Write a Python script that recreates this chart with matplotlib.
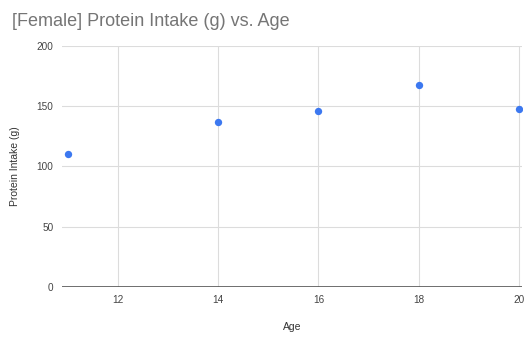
import matplotlib
matplotlib.use('Agg')
import matplotlib.pyplot as plt

# data
age = [11, 14, 16, 18, 20]
protein = [110, 137, 146, 168, 148]
x_ticks = [12, 14, 16, 18, 20]
y_ticks = [0, 50, 100, 150, 200]

plt.rcParams['font.family'] = ['Liberation Sans', 'DejaVu Sans']

fig = plt.figure(figsize=(5.25, 3.38), dpi=100)
ax = fig.add_axes([0.118, 0.151, 0.876, 0.713])

ax.scatter(age, protein, color='#3c78f0', s=28, zorder=3, linewidths=0)

ax.set_xlim(10.88, 20.06)
ax.set_ylim(0, 200)
ax.set_xticks(x_ticks)
ax.set_yticks(y_ticks)
ax.grid(True, color='#dcdcdc', linewidth=0.8)
ax.set_axisbelow(True)
ax.axhline(0, color='#555555', linewidth=1.2, zorder=2)

for s in ax.spines.values():
    s.set_visible(False)
ax.tick_params(length=0, labelsize=7.2, labelcolor='#444444', pad=6)

ax.set_xlabel('Age', fontsize=7.5, color='#333333', labelpad=12)
ax.set_ylabel('Protein Intake (g)', fontsize=7.5, color='#333333', labelpad=12)
fig.text(0.022, 0.91, '[Female] Protein Intake (g) vs. Age', fontsize=13,
         color='#757575', va='bottom')

fig.savefig('out.png', dpi=100)
